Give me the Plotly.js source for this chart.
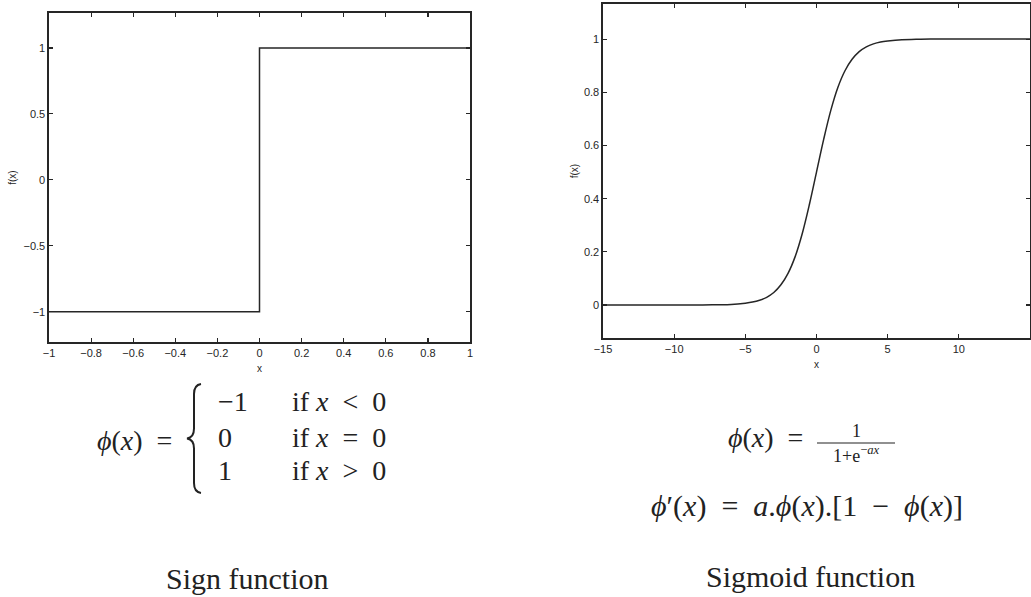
<!DOCTYPE html>
<html>
<head>
<meta charset="utf-8">
<script src="https://cdn.plot.ly/plotly-3.0.1.min.js"></script>
<style>
  html, body { margin: 0; padding: 0; background: #fff; }
  #plot { width: 1031px; height: 597px; }
</style>
</head>
<body>
<div id="plot"></div>
<script>
// Sign function: a step from -1 to 1 at x = 0
const signX = [-1, 0, 0, 1];
const signY = [-1, -1, 1, 1];

// Sigmoid function samples (a = 1)
const sigX = [-15, -12, -10, -8, -7, -6, -5, -4.5, -4, -3.5, -3, -2.5, -2, -1.5, -1, -0.5,
              0, 0.5, 1, 1.5, 2, 2.5, 3, 3.5, 4, 4.5, 5, 6, 7, 8, 10, 12, 15];
const sigY = [0.000, 0.000, 0.000, 0.000, 0.001, 0.002, 0.007, 0.011, 0.018, 0.029, 0.047, 0.076,
              0.119, 0.182, 0.269, 0.378, 0.500, 0.622, 0.731, 0.818, 0.881, 0.924, 0.953, 0.971,
              0.982, 0.989, 0.993, 0.998, 0.999, 1.000, 1.000, 1.000, 1.000];

// Tick values and labels
const signXTicks = [-1, -0.8, -0.6, -0.4, -0.2, 0, 0.2, 0.4, 0.6, 0.8, 1];
const signXLabels = ['\u22121', '\u22120.8', '\u22120.6', '\u22120.4', '\u22120.2', '0', '0.2', '0.4', '0.6', '0.8', '1'];
const signYTicks = [-1, -0.5, 0, 0.5, 1];
const signYLabels = ['\u22121', '\u22120.5', '0', '0.5', '1'];
const sigXTicks = [-15, -10, -5, 0, 5, 10, 15];
const sigXLabels = ['\u221215', '\u221210', '\u22125', '0', '5', '10', '15'];
const sigYTicks = [0, 0.2, 0.4, 0.6, 0.8, 1];
const sigYLabels = ['0', '0.2', '0.4', '0.6', '0.8', '1'];

// Captions
const signCaption = 'Sign function';
const sigCaption = 'Sigmoid function';

const W = 1031, H = 597;
const px = x => x / W;
const py = y => 1 - y / H;

const ink = '#262626';
const tickFont = { family: 'Liberation Sans, Arial, sans-serif', size: 11, color: ink };
const titleFont = { family: 'Liberation Sans, Arial, sans-serif', size: 10, color: ink };
const mathFont = { family: 'Liberation Serif, Times New Roman, serif', size: 28, color: '#222' };
const sp = '\u2002';

function axisBase() {
  return {
    showline: true, mirror: 'ticks', linecolor: ink, linewidth: 1.6,
    ticks: 'inside', ticklen: 4, tickwidth: 1.2, tickcolor: ink,
    showgrid: false, zeroline: false, tickfont: tickFont,
    tickmode: 'array', fixedrange: true
  };
}

const traces = [
  { x: signX, y: signY, xaxis: 'x', yaxis: 'y', mode: 'lines',
    line: { color: ink, width: 1.5 }, hoverinfo: 'skip' },
  { x: sigX, y: sigY, xaxis: 'x2', yaxis: 'y2', mode: 'lines',
    line: { color: ink, width: 1.5, shape: 'spline', smoothing: 1 }, hoverinfo: 'skip' }
];

// Curly brace drawn as a path in paper coordinates
function bracePath(xr, xm, xt, y0, y1) {
  const ym = (y0 + y1) / 2;
  const P = (x, y) => px(x).toFixed(5) + ',' + py(y).toFixed(5);
  return 'M' + P(xr, y0) +
    ' Q' + P(xm, y0 + 1) + ' ' + P(xm, y0 + 10) +
    ' L' + P(xm, ym - 10) +
    ' Q' + P(xm, ym - 1) + ' ' + P(xt, ym) +
    ' Q' + P(xm, ym + 1) + ' ' + P(xm, ym + 10) +
    ' L' + P(xm, y1 - 10) +
    ' Q' + P(xm, y1 - 1) + ' ' + P(xr, y1);
}

function note(text, x, y, xanchor, font) {
  return { text: text, x: px(x), y: py(y), xref: 'paper', yref: 'paper',
           xanchor: xanchor, yanchor: 'middle', showarrow: false, font: font || mathFont };
}

const sub = Object.assign({}, mathFont, { size: 18 });
const cap = Object.assign({}, mathFont, { size: 30 });

const layout = {
  width: W, height: H,
  margin: { l: 0, r: 0, t: 0, b: 0 },
  paper_bgcolor: '#fff', plot_bgcolor: '#fff',
  showlegend: false,
  xaxis: Object.assign(axisBase(), {
    domain: [px(49), px(470)], range: [-1, 1], anchor: 'y',
    tickvals: signXTicks, ticktext: signXLabels,
    title: { text: 'x', font: titleFont, standoff: 7 }
  }),
  yaxis: Object.assign(axisBase(), {
    domain: [py(342), py(13)], range: [-1.23, 1.265], anchor: 'x',
    tickvals: signYTicks, ticktext: signYLabels,
    title: { text: 'f(x)', font: titleFont, standoff: 5 }
  }),
  xaxis2: Object.assign(axisBase(), {
    domain: [px(603), px(1030)], range: [-15, 15], anchor: 'y2',
    tickvals: sigXTicks, ticktext: sigXLabels,
    title: { text: 'x', font: titleFont, standoff: 7 }
  }),
  yaxis2: Object.assign(axisBase(), {
    domain: [py(338), py(4)], range: [-0.124, 1.132], anchor: 'x2',
    tickvals: sigYTicks, ticktext: sigYLabels,
    title: { text: 'f(x)', font: titleFont, standoff: 3 }
  }),
  shapes: [
    { type: 'path', xref: 'paper', yref: 'paper', path: bracePath(201, 194, 187, 384, 493),
      line: { color: '#222', width: 2 } },
    { type: 'line', xref: 'paper', yref: 'paper', x0: px(817), x1: px(895), y0: py(443), y1: py(443),
      line: { color: '#222', width: 1.2 } }
  ],
  annotations: [
    // sign function definition
    note('<i>\u03d5</i>(<i>x</i>)' + sp + '=', 174, 440, 'right'),
    note('\u22121', 216, 401, 'left'),
    note('0', 216, 437, 'left'),
    note('1', 216, 470, 'left'),
    note('if <i>x</i>' + sp + '&lt;' + sp + '0', 290, 401, 'left'),
    note('if <i>x</i>' + sp + '=' + sp + '0', 290, 437, 'left'),
    note('if <i>x</i>' + sp + '&gt;' + sp + '0', 290, 470, 'left'),
    note(signCaption, 247, 578, 'center', cap),
    // sigmoid definition
    note('<i>\u03d5</i>(<i>x</i>)' + sp + '=', 805, 437, 'right'),
    note('1', 856, 431, 'center', sub),
    note('1+e<sup>\u2212<i>ax</i></sup>', 856, 454, 'center', sub),
    note('<i>\u03d5</i>\u2032(<i>x</i>)' + sp + '=' + sp + '<i>a</i>.<i>\u03d5</i>(<i>x</i>).[1' + sp + '\u2212' + sp + '<i>\u03d5</i>(<i>x</i>)]',
         807, 506, 'center', Object.assign({}, mathFont, { size: 30 })),
    note(sigCaption, 810, 576, 'center', cap)
  ]
};

Plotly.newPlot('plot', traces, layout, { displayModeBar: false, staticPlot: true });
</script>
</body>
</html>
